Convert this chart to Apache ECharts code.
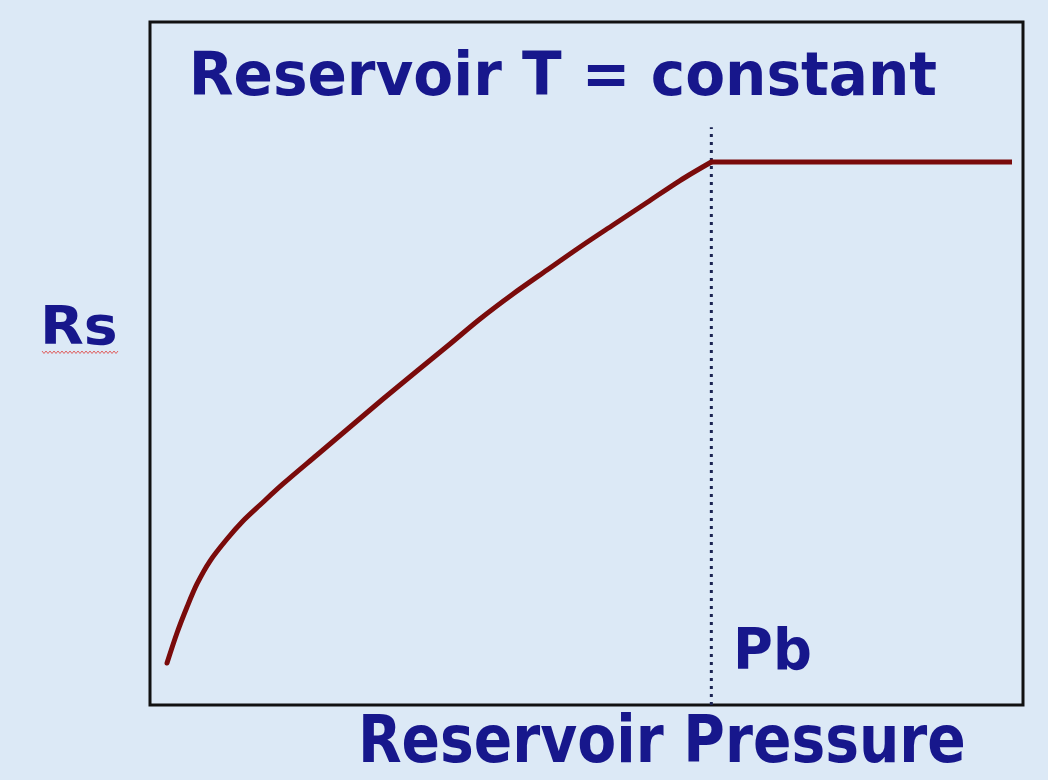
<!DOCTYPE html>
<html>
<head>
<meta charset="utf-8">
<script src="https://cdn.jsdelivr.net/npm/echarts@6/dist/echarts.min.js"></script>
<style>
html,body{margin:0;padding:0;background:#dce9f6;}
#chart{width:1048px;height:780px;}
</style>
</head>
<body>
<div id="chart"></div>
<script>
// ---- data (relative units 0..100) ----
const pressure = [1.95, 3.09, 4.24, 5.38, 6.87, 8.82, 10.65, 12.60, 15.23, 19.13, 22.91, 26.69, 30.58, 34.36, 37.80, 41.58, 45.48, 49.26, 53.04, 56.93, 60.71, 64.3];
const rs       = [6.15, 10.54, 14.35, 17.72, 21.08, 24.30, 26.94, 29.28, 32.36, 36.60, 40.70, 44.80, 48.90, 52.86, 56.52, 60.18, 63.69, 67.06, 70.28, 73.57, 76.79, 79.5];
const plateauPressure = [64.3, 98.74];
const plateauRs = [79.5, 79.5];
const bubblePoint = 64.3;
const bubbleLineTop = 84.6;

const titleText = 'Reservoir T = constant';
const yLabel = 'Rs';
const xLabel = 'Reservoir Pressure';
const pbLabel = 'Pb';

// ---- layout helpers ----
const FONT_FAMILY = '"DejaVu Sans", "Noto Sans", sans-serif';
const mctx = document.createElement('canvas').getContext('2d');
function fitText(text, x0, y0, x1, y1) {
  mctx.font = 'bold 100px ' + FONT_FAMILY;
  mctx.textBaseline = 'middle';
  mctx.textAlign = 'left';
  const m = mctx.measureText(text);
  const left = m.actualBoundingBoxLeft, right = m.actualBoundingBoxRight;
  const asc = m.actualBoundingBoxAscent, desc = m.actualBoundingBoxDescent;
  const sx = (x1 - x0) / (left + right);
  const sy = (y1 - y0) / (asc + desc);
  return {
    type: 'text',
    x: x0 + left * sx,
    y: y0 + asc * sy,
    scaleX: sx,
    scaleY: sy,
    z: 100,
    style: {
      text: text, x: 0, y: 0,
      font: 'bold 100px ' + FONT_FAMILY,
      fill: '#17178c',
      textAlign: 'left', textVerticalAlign: 'middle',
      align: 'left', verticalAlign: 'middle',
      shadowColor: 'rgba(5,5,50,0.55)',
      shadowBlur: 2, shadowOffsetX: 2, shadowOffsetY: 2
    }
  };
}
const squiggle = [];
for (let i = 0; i <= 38; i++) squiggle.push([42 + i * 2, 352 + (i % 2 ? 1.5 : -1)]);

const chart = echarts.init(document.getElementById('chart'));
chart.setOption({
  animation: false,
  backgroundColor: '#dce9f6',
  grid: { left: 150, top: 22, right: 25, bottom: 75, show: true, borderColor: '#111111', borderWidth: 3, backgroundColor: 'transparent' },
  xAxis: { type: 'value', min: 0, max: 100, axisLine: { show: false }, axisTick: { show: false }, axisLabel: { show: false }, splitLine: { show: false } },
  yAxis: { type: 'value', min: 0, max: 100, axisLine: { show: false }, axisTick: { show: false }, axisLabel: { show: false }, splitLine: { show: false } },
  series: [
    {
      type: 'line', symbol: 'none', smooth: 0.3,
      data: pressure.map((p, i) => [p, rs[i]]),
      lineStyle: { color: '#7a0b0b', width: 5, cap: 'round', join: 'round' }, z: 3
    },
    {
      type: 'line', symbol: 'none',
      data: plateauPressure.map((p, i) => [p, plateauRs[i]]),
      lineStyle: { color: '#7a0b0b', width: 5 }, z: 3
    },
    {
      type: 'line', symbol: 'none',
      data: [[bubblePoint, 0], [bubblePoint, bubbleLineTop]],
      lineStyle: { color: '#1b2352', width: 3, type: [3, 5] }, z: 2
    }
  ],
  graphic: [
    fitText(titleText, 194, 49, 936, 96),
    fitText(yLabel, 45, 305, 115, 345),
    fitText(pbLabel, 738, 625, 810, 670),
    fitText(xLabel, 363, 713, 963, 763),
    { type: 'polyline', shape: { points: squiggle }, style: { stroke: '#e06060', lineWidth: 1, fill: null }, z: 100 }
  ]
});
</script>
</body>
</html>
